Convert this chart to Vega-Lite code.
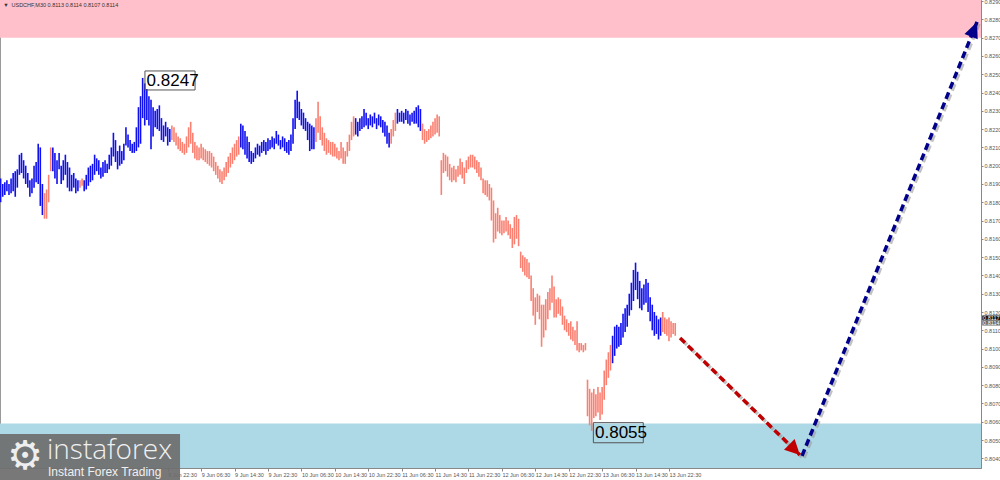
{
"$schema":"https://vega.github.io/schema/vega-lite/v6.json",
"width":981,"height":468,
"autosize":{"type":"none"},
"padding":{"left":0,"top":0,"right":19,"bottom":12},
"background":"white",
"config":{"view":{"stroke":"#9a9a9a","strokeWidth":1},"font":"Liberation Sans","axis":{"labelOverlap":false,"grid":false,"title":null}},
"resolve":{"scale":{"color":"independent"}},
"datasets":{
"bars":[
{"i":0,"h":0.8193,"l":0.8180,"d":"u"},{"i":1,"h":0.8190,"l":0.8183,"d":"u"},{"i":2,"h":0.8191,"l":0.8184,"d":"u"},{"i":3,"h":0.8192,"l":0.8186,"d":"u"},{"i":4,"h":0.8190,"l":0.8184,"d":"u"},{"i":5,"h":0.8193,"l":0.8185,"d":"u"},{"i":6,"h":0.8196,"l":0.8186,"d":"u"},{"i":7,"h":0.8197,"l":0.8183,"d":"u"},{"i":8,"h":0.8198,"l":0.8188,"d":"u"},{"i":9,"h":0.8206,"l":0.8195,"d":"u"},
{"i":10,"h":0.8207,"l":0.8196,"d":"u"},{"i":11,"h":0.8203,"l":0.8193,"d":"u"},{"i":12,"h":0.8200,"l":0.8190,"d":"u"},{"i":13,"h":0.8196,"l":0.8188,"d":"u"},{"i":14,"h":0.8192,"l":0.8183,"d":"u"},{"i":15,"h":0.8193,"l":0.8185,"d":"u"},{"i":16,"h":0.8200,"l":0.8188,"d":"u"},{"i":17,"h":0.8202,"l":0.8191,"d":"u"},{"i":18,"h":0.8212,"l":0.8190,"d":"u"},{"i":19,"h":0.8210,"l":0.8178,"d":"u"},
{"i":20,"h":0.8190,"l":0.8173,"d":"u"},{"i":21,"h":0.8185,"l":0.8171,"d":"d"},{"i":22,"h":0.8187,"l":0.8171,"d":"d"},{"i":23,"h":0.8195,"l":0.8180,"d":"d"},{"i":24,"h":0.8210,"l":0.8197,"d":"d"},{"i":25,"h":0.8210,"l":0.8197,"d":"u"},{"i":26,"h":0.8207,"l":0.8193,"d":"u"},{"i":27,"h":0.8203,"l":0.8190,"d":"u"},{"i":28,"h":0.8207,"l":0.8198,"d":"u"},{"i":29,"h":0.8200,"l":0.8190,"d":"u"},
{"i":30,"h":0.8203,"l":0.8192,"d":"u"},{"i":31,"h":0.8206,"l":0.8195,"d":"u"},{"i":32,"h":0.8202,"l":0.8188,"d":"u"},{"i":33,"h":0.8199,"l":0.8186,"d":"u"},{"i":34,"h":0.8195,"l":0.8186,"d":"u"},{"i":35,"h":0.8196,"l":0.8188,"d":"u"},{"i":36,"h":0.8193,"l":0.8185,"d":"u"},{"i":37,"h":0.8192,"l":0.8186,"d":"u"},{"i":38,"h":0.8192,"l":0.8188,"d":"d"},{"i":39,"h":0.8193,"l":0.8189,"d":"d"},
{"i":40,"h":0.8192,"l":0.8186,"d":"u"},{"i":41,"h":0.8195,"l":0.8187,"d":"u"},{"i":42,"h":0.8199,"l":0.8189,"d":"u"},{"i":43,"h":0.8200,"l":0.8191,"d":"u"},{"i":44,"h":0.8201,"l":0.8192,"d":"u"},{"i":45,"h":0.8206,"l":0.8195,"d":"u"},{"i":46,"h":0.8204,"l":0.8197,"d":"u"},{"i":47,"h":0.8203,"l":0.8195,"d":"u"},{"i":48,"h":0.8199,"l":0.8193,"d":"u"},{"i":49,"h":0.8202,"l":0.8194,"d":"u"},
{"i":50,"h":0.8203,"l":0.8196,"d":"u"},{"i":51,"h":0.8201,"l":0.8196,"d":"u"},{"i":52,"h":0.8206,"l":0.8198,"d":"u"},{"i":53,"h":0.8210,"l":0.8200,"d":"u"},{"i":54,"h":0.8218,"l":0.8205,"d":"u"},{"i":55,"h":0.8214,"l":0.8202,"d":"u"},{"i":56,"h":0.8208,"l":0.8198,"d":"u"},{"i":57,"h":0.8211,"l":0.8200,"d":"u"},{"i":58,"h":0.8208,"l":0.8201,"d":"u"},{"i":59,"h":0.8212,"l":0.8203,"d":"u"},
{"i":60,"h":0.8221,"l":0.8211,"d":"u"},{"i":61,"h":0.8217,"l":0.8210,"d":"u"},{"i":62,"h":0.8214,"l":0.8208,"d":"u"},{"i":63,"h":0.8212,"l":0.8207,"d":"u"},{"i":64,"h":0.8213,"l":0.8207,"d":"u"},{"i":65,"h":0.8221,"l":0.8208,"d":"u"},{"i":66,"h":0.8232,"l":0.8210,"d":"u"},{"i":67,"h":0.8238,"l":0.8212,"d":"u"},{"i":68,"h":0.8248,"l":0.8226,"d":"u"},{"i":69,"h":0.8245,"l":0.8222,"d":"u"},
{"i":70,"h":0.8242,"l":0.8225,"d":"u"},{"i":71,"h":0.8238,"l":0.8222,"d":"u"},{"i":72,"h":0.8236,"l":0.8209,"d":"u"},{"i":73,"h":0.8232,"l":0.8216,"d":"u"},{"i":74,"h":0.8230,"l":0.8221,"d":"u"},{"i":75,"h":0.8231,"l":0.8220,"d":"u"},{"i":76,"h":0.8233,"l":0.8219,"d":"u"},{"i":77,"h":0.8226,"l":0.8214,"d":"u"},{"i":78,"h":0.8222,"l":0.8213,"d":"u"},{"i":79,"h":0.8224,"l":0.8216,"d":"u"},
{"i":80,"h":0.8221,"l":0.8211,"d":"u"},{"i":81,"h":0.8220,"l":0.8213,"d":"u"},{"i":82,"h":0.8222,"l":0.8214,"d":"d"},{"i":83,"h":0.8221,"l":0.8213,"d":"d"},{"i":84,"h":0.8218,"l":0.8211,"d":"d"},{"i":85,"h":0.8216,"l":0.8209,"d":"d"},{"i":86,"h":0.8215,"l":0.8208,"d":"d"},{"i":87,"h":0.8213,"l":0.8207,"d":"d"},{"i":88,"h":0.8212,"l":0.8206,"d":"d"},{"i":89,"h":0.8216,"l":0.8207,"d":"d"},
{"i":90,"h":0.8221,"l":0.8210,"d":"d"},{"i":91,"h":0.8224,"l":0.8212,"d":"d"},{"i":92,"h":0.8218,"l":0.8207,"d":"d"},{"i":93,"h":0.8213,"l":0.8204,"d":"d"},{"i":94,"h":0.8211,"l":0.8203,"d":"d"},{"i":95,"h":0.8210,"l":0.8203,"d":"d"},{"i":96,"h":0.8212,"l":0.8204,"d":"d"},{"i":97,"h":0.8210,"l":0.8203,"d":"d"},{"i":98,"h":0.8209,"l":0.8202,"d":"d"},{"i":99,"h":0.8208,"l":0.8201,"d":"d"},
{"i":100,"h":0.8208,"l":0.8200,"d":"d"},{"i":101,"h":0.8207,"l":0.8199,"d":"d"},{"i":102,"h":0.8205,"l":0.8197,"d":"d"},{"i":103,"h":0.8202,"l":0.8195,"d":"d"},{"i":104,"h":0.8200,"l":0.8193,"d":"d"},{"i":105,"h":0.8198,"l":0.8191,"d":"d"},{"i":106,"h":0.8197,"l":0.8190,"d":"d"},{"i":107,"h":0.8199,"l":0.8192,"d":"d"},{"i":108,"h":0.8202,"l":0.8194,"d":"d"},{"i":109,"h":0.8205,"l":0.8196,"d":"d"},
{"i":110,"h":0.8207,"l":0.8199,"d":"d"},{"i":111,"h":0.8210,"l":0.8201,"d":"d"},{"i":112,"h":0.8212,"l":0.8203,"d":"d"},{"i":113,"h":0.8214,"l":0.8205,"d":"d"},{"i":114,"h":0.8216,"l":0.8206,"d":"d"},{"i":115,"h":0.8223,"l":0.8210,"d":"u"},{"i":116,"h":0.8222,"l":0.8209,"d":"u"},{"i":117,"h":0.8219,"l":0.8206,"d":"u"},{"i":118,"h":0.8216,"l":0.8204,"d":"u"},{"i":119,"h":0.8213,"l":0.8202,"d":"u"},
{"i":120,"h":0.8208,"l":0.8201,"d":"u"},{"i":121,"h":0.8207,"l":0.8202,"d":"u"},{"i":122,"h":0.8210,"l":0.8204,"d":"u"},{"i":123,"h":0.8212,"l":0.8206,"d":"u"},{"i":124,"h":0.8211,"l":0.8205,"d":"u"},{"i":125,"h":0.8213,"l":0.8207,"d":"u"},{"i":126,"h":0.8214,"l":0.8208,"d":"u"},{"i":127,"h":0.8213,"l":0.8206,"d":"u"},{"i":128,"h":0.8215,"l":0.8208,"d":"u"},{"i":129,"h":0.8214,"l":0.8209,"d":"u"},
{"i":130,"h":0.8216,"l":0.8210,"d":"u"},{"i":131,"h":0.8215,"l":0.8209,"d":"u"},{"i":132,"h":0.8219,"l":0.8212,"d":"u"},{"i":133,"h":0.8217,"l":0.8211,"d":"u"},{"i":134,"h":0.8214,"l":0.8209,"d":"u"},{"i":135,"h":0.8216,"l":0.8210,"d":"u"},{"i":136,"h":0.8215,"l":0.8208,"d":"u"},{"i":137,"h":0.8213,"l":0.8207,"d":"u"},{"i":138,"h":0.8214,"l":0.8206,"d":"u"},{"i":139,"h":0.8217,"l":0.8208,"d":"u"},
{"i":140,"h":0.8226,"l":0.8212,"d":"u"},{"i":141,"h":0.8236,"l":0.8220,"d":"u"},{"i":142,"h":0.8241,"l":0.8226,"d":"u"},{"i":143,"h":0.8235,"l":0.8225,"d":"u"},{"i":144,"h":0.8231,"l":0.8222,"d":"u"},{"i":145,"h":0.8229,"l":0.8220,"d":"u"},{"i":146,"h":0.8226,"l":0.8219,"d":"u"},{"i":147,"h":0.8224,"l":0.8214,"d":"u"},{"i":148,"h":0.8223,"l":0.8208,"d":"u"},{"i":149,"h":0.8222,"l":0.8209,"d":"u"},
{"i":150,"h":0.8221,"l":0.8209,"d":"u"},{"i":151,"h":0.8226,"l":0.8213,"d":"d"},{"i":152,"h":0.8235,"l":0.8218,"d":"d"},{"i":153,"h":0.8227,"l":0.8214,"d":"d"},{"i":154,"h":0.8221,"l":0.8211,"d":"d"},{"i":155,"h":0.8218,"l":0.8208,"d":"d"},{"i":156,"h":0.8215,"l":0.8206,"d":"d"},{"i":157,"h":0.8214,"l":0.8207,"d":"d"},{"i":158,"h":0.8213,"l":0.8206,"d":"d"},{"i":159,"h":0.8213,"l":0.8205,"d":"d"},
{"i":160,"h":0.8212,"l":0.8205,"d":"d"},{"i":161,"h":0.8210,"l":0.8204,"d":"d"},{"i":162,"h":0.8208,"l":0.8203,"d":"d"},{"i":163,"h":0.8213,"l":0.8204,"d":"d"},{"i":164,"h":0.8210,"l":0.8201,"d":"d"},{"i":165,"h":0.8208,"l":0.8201,"d":"d"},{"i":166,"h":0.8213,"l":0.8205,"d":"d"},{"i":167,"h":0.8217,"l":0.8208,"d":"d"},{"i":168,"h":0.8224,"l":0.8214,"d":"d"},{"i":169,"h":0.8227,"l":0.8216,"d":"d"},
{"i":170,"h":0.8226,"l":0.8217,"d":"u"},{"i":171,"h":0.8224,"l":0.8216,"d":"u"},{"i":172,"h":0.8226,"l":0.8219,"d":"u"},{"i":173,"h":0.8227,"l":0.8220,"d":"u"},{"i":174,"h":0.8231,"l":0.8221,"d":"u"},{"i":175,"h":0.8229,"l":0.8222,"d":"u"},{"i":176,"h":0.8226,"l":0.8220,"d":"u"},{"i":177,"h":0.8228,"l":0.8222,"d":"u"},{"i":178,"h":0.8227,"l":0.8221,"d":"u"},{"i":179,"h":0.8229,"l":0.8223,"d":"u"},
{"i":180,"h":0.8226,"l":0.8220,"d":"u"},{"i":181,"h":0.8228,"l":0.8222,"d":"u"},{"i":182,"h":0.8227,"l":0.8221,"d":"u"},{"i":183,"h":0.8225,"l":0.8218,"d":"u"},{"i":184,"h":0.8224,"l":0.8216,"d":"u"},{"i":185,"h":0.8222,"l":0.8212,"d":"u"},{"i":186,"h":0.8218,"l":0.8210,"d":"u"},{"i":187,"h":0.8220,"l":0.8212,"d":"d"},{"i":188,"h":0.8225,"l":0.8216,"d":"d"},{"i":189,"h":0.8229,"l":0.8219,"d":"d"},
{"i":190,"h":0.8231,"l":0.8223,"d":"u"},{"i":191,"h":0.8229,"l":0.8224,"d":"u"},{"i":192,"h":0.8230,"l":0.8224,"d":"u"},{"i":193,"h":0.8229,"l":0.8223,"d":"u"},{"i":194,"h":0.8231,"l":0.8225,"d":"u"},{"i":195,"h":0.8230,"l":0.8223,"d":"u"},{"i":196,"h":0.8228,"l":0.8222,"d":"u"},{"i":197,"h":0.8229,"l":0.8224,"d":"u"},{"i":198,"h":0.8230,"l":0.8223,"d":"u"},{"i":199,"h":0.8232,"l":0.8223,"d":"u"},
{"i":200,"h":0.8233,"l":0.8221,"d":"u"},{"i":201,"h":0.8231,"l":0.8219,"d":"u"},{"i":202,"h":0.8223,"l":0.8214,"d":"d"},{"i":203,"h":0.8220,"l":0.8212,"d":"d"},{"i":204,"h":0.8219,"l":0.8213,"d":"d"},{"i":205,"h":0.8220,"l":0.8214,"d":"d"},{"i":206,"h":0.8222,"l":0.8215,"d":"d"},{"i":207,"h":0.8224,"l":0.8216,"d":"d"},{"i":208,"h":0.8226,"l":0.8217,"d":"d"},{"i":209,"h":0.8228,"l":0.8218,"d":"d"},
{"i":210,"h":0.8227,"l":0.8216,"d":"d"},{"i":211,"h":0.8203,"l":0.8184,"d":"d"},{"i":212,"h":0.8207,"l":0.8196,"d":"d"},{"i":213,"h":0.8206,"l":0.8197,"d":"d"},{"i":214,"h":0.8205,"l":0.8194,"d":"d"},{"i":215,"h":0.8201,"l":0.8192,"d":"d"},{"i":216,"h":0.8199,"l":0.8191,"d":"d"},{"i":217,"h":0.8200,"l":0.8192,"d":"d"},{"i":218,"h":0.8198,"l":0.8191,"d":"d"},{"i":219,"h":0.8200,"l":0.8194,"d":"d"},
{"i":220,"h":0.8204,"l":0.8195,"d":"d"},{"i":221,"h":0.8202,"l":0.8193,"d":"d"},{"i":222,"h":0.8199,"l":0.8190,"d":"d"},{"i":223,"h":0.8203,"l":0.8196,"d":"d"},{"i":224,"h":0.8205,"l":0.8198,"d":"d"},{"i":225,"h":0.8206,"l":0.8199,"d":"d"},{"i":226,"h":0.8206,"l":0.8199,"d":"d"},{"i":227,"h":0.8205,"l":0.8198,"d":"d"},{"i":228,"h":0.8203,"l":0.8196,"d":"d"},{"i":229,"h":0.8202,"l":0.8194,"d":"d"},
{"i":230,"h":0.8199,"l":0.8192,"d":"d"},{"i":231,"h":0.8193,"l":0.8185,"d":"d"},{"i":232,"h":0.8192,"l":0.8184,"d":"d"},{"i":233,"h":0.8192,"l":0.8183,"d":"d"},{"i":234,"h":0.8190,"l":0.8181,"d":"d"},{"i":235,"h":0.8188,"l":0.8170,"d":"d"},{"i":236,"h":0.8181,"l":0.8158,"d":"d"},{"i":237,"h":0.8174,"l":0.8160,"d":"d"},{"i":238,"h":0.8177,"l":0.8164,"d":"d"},{"i":239,"h":0.8173,"l":0.8163,"d":"d"},
{"i":240,"h":0.8170,"l":0.8162,"d":"d"},{"i":241,"h":0.8170,"l":0.8163,"d":"d"},{"i":242,"h":0.8172,"l":0.8164,"d":"d"},{"i":243,"h":0.8170,"l":0.8162,"d":"d"},{"i":244,"h":0.8168,"l":0.8160,"d":"d"},{"i":245,"h":0.8166,"l":0.8155,"d":"d"},{"i":246,"h":0.8172,"l":0.8157,"d":"d"},{"i":247,"h":0.8173,"l":0.8160,"d":"d"},{"i":248,"h":0.8171,"l":0.8156,"d":"d"},{"i":249,"h":0.8153,"l":0.8144,"d":"d"},
{"i":250,"h":0.8151,"l":0.8142,"d":"d"},{"i":251,"h":0.8150,"l":0.8140,"d":"d"},{"i":252,"h":0.8149,"l":0.8139,"d":"d"},{"i":253,"h":0.8147,"l":0.8138,"d":"d"},{"i":254,"h":0.8140,"l":0.8126,"d":"d"},{"i":255,"h":0.8133,"l":0.8118,"d":"d"},{"i":256,"h":0.8128,"l":0.8113,"d":"d"},{"i":257,"h":0.8130,"l":0.8120,"d":"d"},{"i":258,"h":0.8129,"l":0.8116,"d":"d"},{"i":259,"h":0.8124,"l":0.8101,"d":"d"},
{"i":260,"h":0.8124,"l":0.8106,"d":"d"},{"i":261,"h":0.8127,"l":0.8110,"d":"d"},{"i":262,"h":0.8131,"l":0.8116,"d":"d"},{"i":263,"h":0.8133,"l":0.8121,"d":"d"},{"i":264,"h":0.8140,"l":0.8125,"d":"d"},{"i":265,"h":0.8134,"l":0.8117,"d":"d"},{"i":266,"h":0.8127,"l":0.8117,"d":"d"},{"i":267,"h":0.8128,"l":0.8119,"d":"d"},{"i":268,"h":0.8127,"l":0.8118,"d":"d"},{"i":269,"h":0.8123,"l":0.8113,"d":"d"},
{"i":270,"h":0.8118,"l":0.8110,"d":"d"},{"i":271,"h":0.8116,"l":0.8109,"d":"d"},{"i":272,"h":0.8114,"l":0.8107,"d":"d"},{"i":273,"h":0.8115,"l":0.8105,"d":"d"},{"i":274,"h":0.8112,"l":0.8104,"d":"d"},{"i":275,"h":0.8110,"l":0.8102,"d":"d"},{"i":276,"h":0.8115,"l":0.8099,"d":"d"},{"i":277,"h":0.8103,"l":0.8098,"d":"d"},{"i":278,"h":0.8103,"l":0.8099,"d":"d"},{"i":279,"h":0.8102,"l":0.8098,"d":"d"},
{"i":280,"h":0.8103,"l":0.8099,"d":"d"},{"i":281,"h":0.8083,"l":0.8063,"d":"d"},{"i":282,"h":0.8078,"l":0.8058,"d":"d"},{"i":283,"h":0.8076,"l":0.8055,"d":"d"},{"i":284,"h":0.8078,"l":0.8062,"d":"d"},{"i":285,"h":0.8075,"l":0.8063,"d":"d"},{"i":286,"h":0.8079,"l":0.8065,"d":"d"},{"i":287,"h":0.8076,"l":0.8061,"d":"d"},{"i":288,"h":0.8079,"l":0.8064,"d":"d"},{"i":289,"h":0.8088,"l":0.8072,"d":"d"},
{"i":290,"h":0.8094,"l":0.8080,"d":"d"},{"i":291,"h":0.8098,"l":0.8084,"d":"d"},{"i":292,"h":0.8102,"l":0.8088,"d":"d"},{"i":293,"h":0.8107,"l":0.8092,"d":"u"},{"i":294,"h":0.8112,"l":0.8096,"d":"u"},{"i":295,"h":0.8113,"l":0.8100,"d":"u"},{"i":296,"h":0.8112,"l":0.8101,"d":"u"},{"i":297,"h":0.8114,"l":0.8102,"d":"u"},{"i":298,"h":0.8119,"l":0.8106,"d":"u"},{"i":299,"h":0.8122,"l":0.8109,"d":"u"},
{"i":300,"h":0.8124,"l":0.8112,"d":"u"},{"i":301,"h":0.8130,"l":0.8118,"d":"u"},{"i":302,"h":0.8136,"l":0.8121,"d":"u"},{"i":303,"h":0.8143,"l":0.8126,"d":"u"},{"i":304,"h":0.8147,"l":0.8132,"d":"u"},{"i":305,"h":0.8142,"l":0.8127,"d":"u"},{"i":306,"h":0.8137,"l":0.8122,"d":"u"},{"i":307,"h":0.8133,"l":0.8121,"d":"u"},{"i":308,"h":0.8135,"l":0.8124,"d":"u"},{"i":309,"h":0.8138,"l":0.8125,"d":"u"},
{"i":310,"h":0.8136,"l":0.8120,"d":"u"},{"i":311,"h":0.8128,"l":0.8115,"d":"u"},{"i":312,"h":0.8124,"l":0.8110,"d":"u"},{"i":313,"h":0.8120,"l":0.8107,"d":"u"},{"i":314,"h":0.8118,"l":0.8108,"d":"u"},{"i":315,"h":0.8116,"l":0.8105,"d":"u"},{"i":316,"h":0.8117,"l":0.8107,"d":"u"},{"i":317,"h":0.8120,"l":0.8109,"d":"d"},{"i":318,"h":0.8117,"l":0.8108,"d":"d"},{"i":319,"h":0.8116,"l":0.8107,"d":"d"},
{"i":320,"h":0.8117,"l":0.8104,"d":"d"},{"i":321,"h":0.8115,"l":0.8106,"d":"d"},{"i":322,"h":0.8114,"l":0.8108,"d":"d"},{"i":323,"h":0.8114,"l":0.8107,"d":"d"}
]
},
"layer":[
{"data":{"values":[{"zone":"resistance","top":0.82906,"bot":0.8270},{"zone":"support","top":0.8059,"bot":0.80347}]},
 "mark":{"type":"rect"},
 "encoding":{
  "x":{"datum":-0.3,"type":"quantitative","scale":{"domain":[-0.3,469.4],"nice":false,"zero":false},
   "axis":{"title":null,"grid":false,"values":[80,96,112,128,144,160,176,192,208,224,240,256,272,288,304,320],
    "labelExpr":"['','7 Jun 14:30','7 Jun 22:30','8 Jun 06:30','8 Jun 14:30','8 Jun 22:30','9 Jun 06:30','9 Jun 14:30','9 Jun 22:30','10 Jun 06:30','10 Jun 14:30','10 Jun 22:30','11 Jun 06:30','11 Jun 14:30','11 Jun 22:30','12 Jun 06:30','12 Jun 14:30','12 Jun 22:30','13 Jun 06:30','13 Jun 14:30','13 Jun 22:30'][round(datum.value/16)]",
    "labelAlign":"left","labelBaseline":"top","labelFontSize":5.5,"labelColor":"#555","labelPadding":1,"tickSize":3,"tickColor":"#888","domainColor":"#888","labelOverlap":false,"labelFlush":false,"labelBound":false}},
  "x2":{"datum":469.4},
  "y":{"field":"top","type":"quantitative","scale":{"domain":[0.80347,0.82906],"nice":false,"zero":false},
   "axis":{"title":null,"orient":"right","grid":false,"tickCount":26,"values":[0.804,0.805,0.806,0.807,0.808,0.809,0.81,0.811,0.812,0.813,0.814,0.815,0.816,0.817,0.818,0.819,0.82,0.821,0.822,0.823,0.824,0.825,0.826,0.827,0.828,0.829],
    "format":".4f","labelFontSize":5.5,"labelColor":"#555","labelPadding":1,"tickSize":2,"tickColor":"#888","domainColor":"#888","labelOverlap":false,"labelFlush":false,"labelBound":false}},
  "y2":{"field":"bot"},
  "color":{"field":"zone","type":"nominal","scale":{"domain":["resistance","support"],"range":["#ffc0cb","#add8e6"]},"legend":null}
 }},
{"data":{"name":"bars"},
 "mark":{"type":"rule","strokeWidth":1.6},
 "encoding":{
  "x":{"field":"i","type":"quantitative","title":null},
  "y":{"field":"h","type":"quantitative","title":null},
  "y2":{"field":"l"},
  "color":{"field":"d","type":"nominal","scale":{"domain":["u","d"],"range":["#1010ee","#fa8072"]},"legend":null}
 }},
{"data":{"values":[{"i":325.3,"p":0.81058},{"i":382.7,"p":0.80418}]},
 "mark":{"type":"line","stroke":"#9a9a9a","opacity":0.6,"strokeWidth":3.5,"strokeDash":[7,4],"xOffset":2,"yOffset":2},
 "encoding":{"x":{"field":"i","type":"quantitative","title":null},"y":{"field":"p","type":"quantitative","title":null}}},
{"data":{"values":[{"i":383.7,"p":0.80413},{"i":467.5,"p":0.82786}]},
 "mark":{"type":"line","stroke":"#9a9a9a","opacity":0.6,"strokeWidth":3.5,"strokeDash":[7,4],"xOffset":2,"yOffset":2},
 "encoding":{"x":{"field":"i","type":"quantitative","title":null},"y":{"field":"p","type":"quantitative","title":null}}},
{"data":{"values":[{"i":325.3,"p":0.81058},{"i":382.7,"p":0.80418}]},
 "mark":{"type":"line","stroke":"#c00000","strokeWidth":3.5,"strokeDash":[7,4]},
 "encoding":{"x":{"field":"i","type":"quantitative","title":null},"y":{"field":"p","type":"quantitative","title":null}}},
{"data":{"values":[{"i":383.7,"p":0.80413},{"i":467.5,"p":0.82786}]},
 "mark":{"type":"line","stroke":"#00008b","strokeWidth":3.5,"strokeDash":[7,4]},
 "encoding":{"x":{"field":"i","type":"quantitative","title":null},"y":{"field":"p","type":"quantitative","title":null}}},
{"data":{"values":[{"i":382.7,"p":0.80418}]},
 "mark":{"type":"point","shape":"M0,0L0.5,1L-0.5,1Z","size":900,"filled":true,"fill":"#c00000","opacity":1,"angle":135,"strokeWidth":0},
 "encoding":{"x":{"field":"i","type":"quantitative","title":null},"y":{"field":"p","type":"quantitative","title":null}}},
{"data":{"values":[{"i":467.5,"p":0.82786}]},
 "mark":{"type":"point","shape":"M0,0L0.45,1L-0.45,1Z","size":1000,"filled":true,"fill":"#00008b","opacity":1,"angle":22,"strokeWidth":0},
 "encoding":{"x":{"field":"i","type":"quantitative","title":null},"y":{"field":"p","type":"quantitative","title":null}}},
{"data":{"values":[{"x1":69.1,"x2":93.1,"y1":0.82518,"y2":0.82414},{"x1":283.8,"x2":307.7,"y1":0.80595,"y2":0.80485}]},
 "mark":{"type":"rect","filled":false,"stroke":"#555","strokeWidth":1},
 "encoding":{"x":{"field":"x1","type":"quantitative","title":null},"x2":{"field":"x2"},"y":{"field":"y1","type":"quantitative","title":null},"y2":{"field":"y2"}}},
{"data":{"values":[{"i":69.9,"p":0.82463,"t":"0.8247"},{"i":284.6,"p":0.80538,"t":"0.8055"}]},
 "mark":{"type":"text","align":"left","baseline":"middle","fontSize":17,"color":"#000","font":"Liberation Sans"},
 "encoding":{"x":{"field":"i","type":"quantitative","title":null},"y":{"field":"p","type":"quantitative","title":null},"text":{"field":"t"}}},
{"data":{"values":[{"i":1.2,"p":0.82879,"t":"▼"},{"i":5.2,"p":0.82879,"t":"USDCHF,M30  0.8113 0.8114 0.8107 0.8114"}]},
 "mark":{"type":"text","align":"left","baseline":"middle","fontSize":5.5,"color":"#333"},
 "encoding":{"x":{"field":"i","type":"quantitative","title":null},"y":{"field":"p","type":"quantitative","title":null},"text":{"field":"t"}}},
{"data":{"values":[{"x1":-0.3,"x2":85.9,"y1":0.80533,"y2":0.80281}]},
 "mark":{"type":"rect","fill":"#6e6e6e","opacity":0.93},
 "encoding":{"x":{"field":"x1","type":"quantitative","title":null},"x2":{"field":"x2"},"y":{"field":"y1","type":"quantitative","title":null},"y2":{"field":"y2"}}},
{"data":{"values":[{"i":11.7,"p":0.80407,"t":"⚙"}]},
 "mark":{"type":"text","align":"center","baseline":"middle","fontSize":40,"color":"#eeeeee","font":"DejaVu Sans"},
 "encoding":{"x":{"field":"i","type":"quantitative","title":null},"y":{"field":"p","type":"quantitative","title":null},"text":{"field":"t"}}},
{"data":{"values":[{"i":22.2,"p":0.80396,"t":"instaforex"}]},
 "mark":{"type":"text","align":"left","baseline":"alphabetic","fontSize":28,"color":"#f0f0f0","font":"Open Sans","fontWeight":300},
 "encoding":{"x":{"field":"i","type":"quantitative","title":null},"y":{"field":"p","type":"quantitative","title":null},"text":{"field":"t"}}},
{"data":{"values":[{"i":22.7,"p":0.80302,"t":"Instant Forex Trading"}]},
 "mark":{"type":"text","align":"left","baseline":"alphabetic","fontSize":12,"color":"#f0f0f0","font":"Liberation Sans"},
 "encoding":{"x":{"field":"i","type":"quantitative","title":null},"y":{"field":"p","type":"quantitative","title":null},"text":{"field":"t"}}},
{"data":{"values":[{"tag":"bid","top":0.81181,"bot":0.81154},{"tag":"ask","top":0.81154,"bot":0.81126}]},
 "mark":{"type":"rect"},
 "encoding":{"x":{"datum":470.0,"type":"quantitative","title":null},"x2":{"datum":479.0},"y":{"field":"top","type":"quantitative","title":null},"y2":{"field":"bot"},
  "color":{"field":"tag","type":"nominal","scale":{"domain":["bid","ask"],"range":["#111111","#6a6a6a"]},"legend":null}}},
{"data":{"values":[{"p":0.81167,"t":"0.8117"},{"p":0.8114,"t":"0.8114"}]},
 "mark":{"type":"text","align":"left","baseline":"middle","fontSize":5.5,"color":"#ffffff"},
 "encoding":{"x":{"datum":470.4,"type":"quantitative","title":null},"y":{"field":"p","type":"quantitative","title":null},"text":{"field":"t"}}}
]
}
